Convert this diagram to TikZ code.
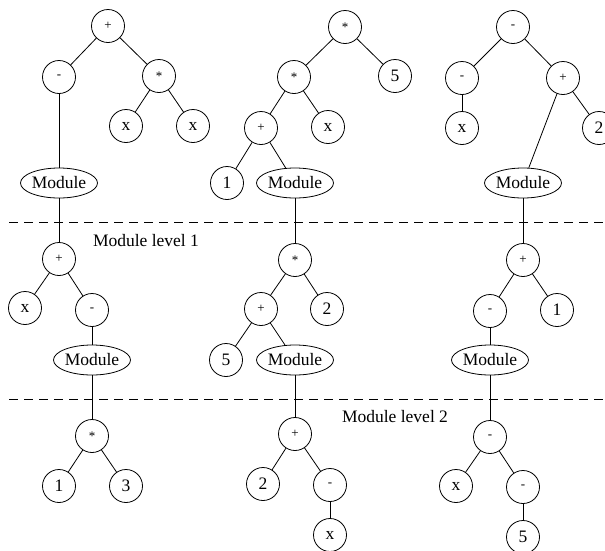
\documentclass[tikz,border=0pt]{standalone}
\usepackage{fontspec}
\setmainfont{Liberation Serif}
\usetikzlibrary{shapes.geometric}

\tikzset{
  term/.style={draw, circle, line width=0.8pt, minimum size=33pt, inner sep=0pt,
    font=\fontsize{17.5}{18}\selectfont},
  oper/.style={term, font=\fontsize{13}{14}\selectfont},
  modnode/.style={draw, ellipse, line width=0.8pt, minimum width=68pt, minimum height=30pt,
    inner sep=0pt, font=\fontsize{17.5}{18}\selectfont},
  levelline/.style={line width=0.8pt, dash pattern=on 9pt off 6pt},
  levellabel/.style={font=\fontsize{17.5}{18}\selectfont, inner sep=0pt},
  edge/.style={line width=0.8pt}
}

\newcommand{\lowstar}{\raisebox{-2.5pt}{*}}

\begin{document}
\begin{tikzpicture}[x=1pt, y=-1pt]
\useasboundingbox (0,0) rectangle (605,550);

% ---- top level trees ----
\node[oper] (a1) at (108,26) {+};
\node[oper] (a2) at (59,77) {-};
\node[oper] (a3) at (159,76) {\lowstar};
\node[term] (a4) at (126,126) {x};
\node[term] (a5) at (193,126) {x};
\node[modnode] (a6) at (59,183) {Module};

\node[oper] (b1) at (345,27) {\lowstar};
\node[oper] (b2) at (294,77) {\lowstar};
\node[term] (b3) at (395,76) {5};
\node[oper] (b4) at (261,128) {+};
\node[term] (b5) at (328,127) {x};
\node[term] (b6) at (227,183) {1};
\node[modnode] (b7) at (295,183) {Module};

\node[oper] (c1) at (513,27) {-};
\node[oper] (c2) at (462,78) {-};
\node[oper] (c3) at (563,78) {+};
\node[term] (c4) at (462,128) {x};
\node[term] (c5) at (599,128) {2};
\node[modnode] (c6) at (523,183) {Module};

\draw[edge] (a1) -- (a2);
\draw[edge] (a1) -- (a3);
\draw[edge] (a3) -- (a4);
\draw[edge] (a3) -- (a5);
\draw[edge] (a2) -- (a6);

\draw[edge] (b1) -- (b2);
\draw[edge] (b1) -- (b3);
\draw[edge] (b2) -- (b4);
\draw[edge] (b2) -- (b5);
\draw[edge] (b4) -- (b6);
\draw[edge] (b4) -- (b7);

\draw[edge] (c1) -- (c2);
\draw[edge] (c1) -- (c3);
\draw[edge] (c2) -- (c4);
\draw[edge] (c3) -- (c5);
\draw[edge] (c3) -- (c6);

% ---- module level 1 ----
\coordinate (l1a) at (9,222);
\coordinate (l1b) at (605,222);
\draw[levelline] (l1a) -- (l1b);
\node[levellabel] (lab1) at (146,241) {Module level 1};

\node[oper] (d1) at (59,259) {+};
\node[term] (d2) at (25,308) {x};
\node[oper] (d3) at (92,310) {-};
\node[modnode] (d4) at (92,360) {Module};

\node[oper] (e1) at (295,260) {\lowstar};
\node[oper] (e2) at (261,309) {+};
\node[term] (e3) at (327,309) {2};
\node[term] (e4) at (226,360) {5};
\node[modnode] (e5) at (295,360) {Module};

\node[oper] (f1) at (523,260) {+};
\node[oper] (f2) at (490,311) {-};
\node[term] (f3) at (557,310) {1};
\node[modnode] (f4) at (490,360) {Module};

\draw[edge] (a6) -- (d1);
\draw[edge] (d1) -- (d2);
\draw[edge] (d1) -- (d3);
\draw[edge] (d3) -- (d4);

\draw[edge] (b7) -- (e1);
\draw[edge] (e1) -- (e2);
\draw[edge] (e1) -- (e3);
\draw[edge] (e2) -- (e4);
\draw[edge] (e2) -- (e5);

\draw[edge] (c6) -- (f1);
\draw[edge] (f1) -- (f2);
\draw[edge] (f1) -- (f3);
\draw[edge] (f2) -- (f4);

% ---- module level 2 ----
\coordinate (l2a) at (9,399);
\coordinate (l2b) at (605,399);
\draw[levelline] (l2a) -- (l2b);
\node[levellabel] (lab2) at (395,417) {Module level 2};

\node[oper] (g1) at (92,436) {\lowstar};
\node[term] (g2) at (59,486) {1};
\node[term] (g3) at (126,486) {3};

\node[oper] (h1) at (295,434) {+};
\node[term] (h2) at (263,484) {2};
\node[oper] (h3) at (330,485) {-};
\node[term] (h4) at (330,535) {x};

\node[oper] (i1) at (490,437) {-};
\node[term] (i2) at (456,486) {x};
\node[oper] (i3) at (523,487) {-};
\node[term] (i4) at (523,537) {5};

\draw[edge] (d4) -- (g1);
\draw[edge] (g1) -- (g2);
\draw[edge] (g1) -- (g3);

\draw[edge] (e5) -- (h1);
\draw[edge] (h1) -- (h2);
\draw[edge] (h1) -- (h3);
\draw[edge] (h3) -- (h4);

\draw[edge] (f4) -- (i1);
\draw[edge] (i1) -- (i2);
\draw[edge] (i1) -- (i3);
\draw[edge] (i3) -- (i4);
\end{tikzpicture}
\end{document}
